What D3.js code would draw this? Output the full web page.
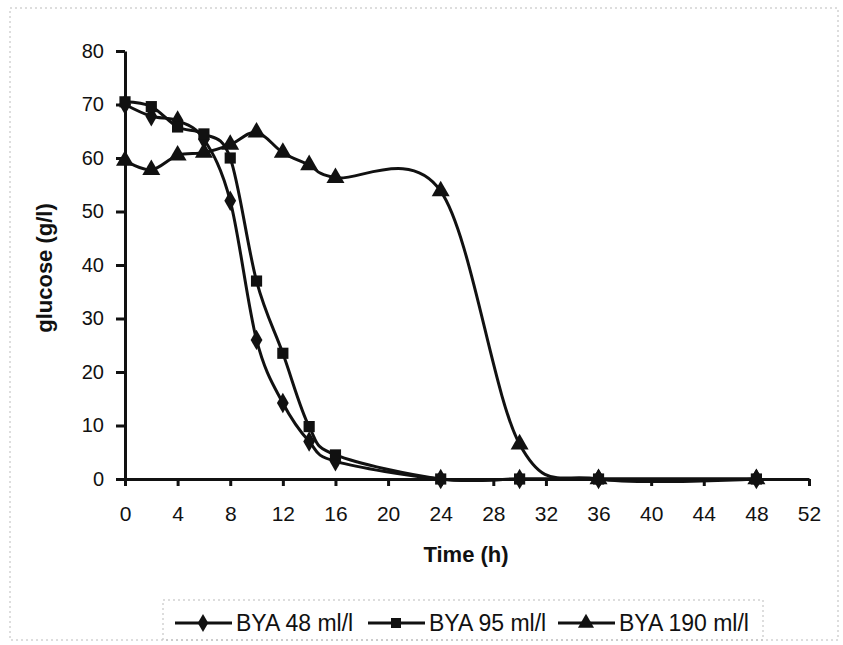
<!DOCTYPE html>
<html><head><meta charset="utf-8">
<script src="https://cdn.jsdelivr.net/npm/d3@7"></script>
<style>body{margin:0;background:#fff}text{font-family:"Liberation Sans",Arial,sans-serif;fill:#111}</style>
</head><body><svg id="c" width="843" height="645"></svg>
<script>
const times = [0,2,4,6,8,10,12,14,16,24,30,36,48];
const bya48 = [70,67.8,67,63.5,52,26,14.2,7,3.3,0,0,0,0];
const bya95 = [70.5,69.6,65.8,64.5,60,37,23.5,9.8,4.5,0,0,0,0];
const bya190 = [59.5,57.8,60.5,61,62.5,64.8,61,58.7,56.3,53.8,6.5,0,0];
const seriesNames = ["BYA 48 ml/l","BYA 95 ml/l","BYA 190 ml/l"];
const seriesShapes = ["diamond","square","triangle"];
const xTicks = d3.range(0,53,4);
const yTicks = d3.range(0,81,10);

const svg = d3.select("#c");
// scan border
svg.append("rect").attr("x",10).attr("y",8).attr("width",828).attr("height",632)
  .attr("fill","none").attr("stroke","#bbb").attr("stroke-dasharray","2,3").attr("stroke-width",1);

const x = d3.scaleLinear().domain([0,52]).range([125,809]);
const y = d3.scaleLinear().domain([0,80]).range([479,51]);

const ax = svg.append("g").attr("transform","translate(0,479)")
  .call(d3.axisBottom(x).tickValues(xTicks).tickSize(7).tickSizeOuter(0).tickPadding(20));
const ay = svg.append("g").attr("transform","translate(125,0)")
  .call(d3.axisLeft(y).tickValues(yTicks).tickSize(9).tickSizeOuter(0).tickPadding(12));
[ax,ay].forEach((g,k)=>{
  g.select(".domain").attr("stroke","#111").attr("stroke-width",3);
  g.selectAll(".tick line").attr("stroke","#111").attr("stroke-width",3);
  g.selectAll(".tick text").attr("font-size",k===0?21:20).attr("fill","#111").style("font-family","Liberation Sans, Arial, sans-serif");
});

svg.append("text").attr("x",466).attr("y",562).attr("text-anchor","middle")
  .attr("font-size",22).attr("font-weight","bold").text("Time (h)");
svg.append("text").attr("transform","translate(52,268) rotate(-90)").attr("text-anchor","middle")
  .attr("font-size",22).attr("font-weight","bold").text("glucose (g/l)");

const symType = {diamond:d3.symbolDiamond, square:d3.symbolSquare, triangle:d3.symbolTriangle};
const symSize = {diamond:120, square:125, triangle:140};
const line = d3.line().x(d=>x(d[0])).y(d=>y(d[1])).curve(d3.curveCatmullRom.alpha(0));
const allSeries = [bya48,bya95,bya190];
allSeries.forEach((vals,i)=>{
  const pts = times.map((t,j)=>[t,vals[j]]);
  svg.append("path").datum(pts).attr("d",line).attr("fill","none").attr("stroke","#111").attr("stroke-width",3);
  svg.append("g").selectAll("path").data(pts).join("path")
    .attr("transform",d=>`translate(${x(d[0])},${y(d[1])})`)
    .attr("d",d3.symbol().type(symType[seriesShapes[i]]).size(symSize[seriesShapes[i]]))
    .attr("fill","#111");
});

// legend
svg.append("rect").attr("x",163).attr("y",600).attr("width",600).attr("height",40)
  .attr("fill","none").attr("stroke","#bbb").attr("stroke-dasharray","2,3");
const legX = [175,368,558];
seriesNames.forEach((n,i)=>{
  const g = svg.append("g").attr("transform",`translate(${legX[i]},623)`);
  g.append("line").attr("x1",0).attr("x2",57).attr("y1",0).attr("y2",0).attr("stroke","#111").attr("stroke-width",3);
  g.append("path").attr("transform","translate(28,0)")
    .attr("d",d3.symbol().type(symType[seriesShapes[i]]).size(symSize[seriesShapes[i]]*0.8)).attr("fill","#111");
  g.append("text").attr("x",61).attr("y",8).attr("font-size",23).text(n);
});
</script></body></html>
